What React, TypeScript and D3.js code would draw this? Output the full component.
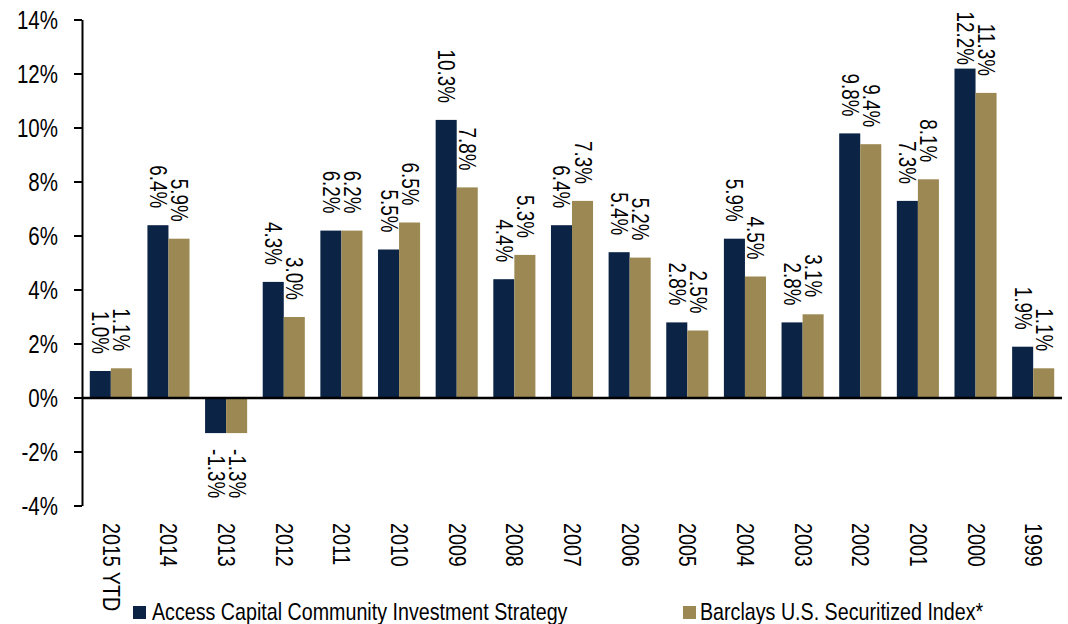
import React from 'react';
import * as d3 from 'd3';

// chart data
const categories = ['2015 YTD', '2014', '2013', '2012', '2011', '2010', '2009', '2008', '2007',
  '2006', '2005', '2004', '2003', '2002', '2001', '2000', '1999'];
const accessCapital = [1.0, 6.4, -1.3, 4.3, 6.2, 5.5, 10.3, 4.4, 6.4, 5.4, 2.8, 5.9, 2.8, 9.8, 7.3, 12.2, 1.9];
const barclays = [1.1, 5.9, -1.3, 3.0, 6.2, 6.5, 7.8, 5.3, 7.3, 5.2, 2.5, 4.5, 3.1, 9.4, 8.1, 11.3, 1.1];
const seriesNames = ['Access Capital Community Investment Strategy', 'Barclays U.S. Securitized Index*'];
const yTicks = [-4, -2, 0, 2, 4, 6, 8, 10, 12, 14];

const W = 1068, H = 624;
const colors = ['#0b2345', '#9b8853'];
const font = '"Liberation Sans", Arial, sans-serif';
const narrow = 'scale(0.82,1)'; // no Arial Narrow here, squeeze the glyphs instead

export default function App() {
  const x0 = d3.scaleBand<string>().domain(categories).range([82, 1062]).paddingInner(0.27).paddingOuter(0.135);
  const x1 = d3.scaleBand<string>().domain(['a', 'b']).range([0, x0.bandwidth()]);
  const y = d3.scaleLinear().domain([-4, 14]).range([506, 20]);

  const series = [accessCapital, barclays];
  const fmt = (v: number) => v.toFixed(1) + '%';

  return (
    <svg width={W} height={H} style={{ position: 'absolute', left: 0, top: 0 }} fontFamily={font}>
      {/* bars */}
      {series.map((vals, si) => (
        <g key={si} fill={colors[si]}>
          {vals.map((v, i) => {
            const bx = x0(categories[i])! + x1(si ? 'b' : 'a')!;
            return <rect key={i} x={bx} width={x1.bandwidth()} y={y(Math.max(v, 0))}
              height={Math.abs(y(v) - y(0))} />;
          })}
        </g>
      ))}

      {/* value labels, rotated */}
      {series.map((vals, si) => (
        <g key={'l' + si} fontSize={23} fill="#000">
          {vals.map((v, i) => {
            const cx = x0(categories[i])! + x1(si ? 'b' : 'a')! + x1.bandwidth() / 2 - 8;
            if (v >= 0) {
              let yy = y(v) - 17;
              // keep the label inside the plot
              const len = fmt(v).length * 10.4;
              if (yy - len < 13) yy = 13 + len;
              return <text key={i} transform={`translate(${cx},${yy}) rotate(90) ${narrow}`} textAnchor="end">{fmt(v)}</text>;
            }
            return <text key={i} transform={`translate(${cx},${y(v) + 16}) rotate(90) ${narrow}`} textAnchor="start">{fmt(v)}</text>;
          })}
        </g>
      ))}

      {/* y axis */}
      <line x1={82.5} x2={82.5} y1={y(14)} y2={y(-4)} stroke="#000" strokeWidth={2} />
      {yTicks.map(t => (
        <g key={t}>
          <line x1={74} x2={82} y1={y(t)} y2={y(t)} stroke="#000" strokeWidth={2} />
          <text transform={`translate(58,${y(t)}) ${narrow}`} dy="0.36em" textAnchor="end" fontSize={25}>{t}%</text>
        </g>
      ))}
      {/* zero line */}
      <line x1={82} x2={1062} y1={y(0)} y2={y(0)} stroke="#000" strokeWidth={2.5} />

      {/* category labels */}
      {categories.map(c => (
        <text key={c} transform={`translate(${x0(c)! + x0.bandwidth() / 2 - 8},523) rotate(90) ${narrow}`}
          fontSize={24} textAnchor="start">{c}</text>
      ))}

      {/* legend */}
      <rect x={133} y={606} width={13} height={13} fill={colors[0]} />
      <text transform={`translate(152,620) ${narrow}`} fontSize={24}>{seriesNames[0]}</text>
      <rect x={683} y={606} width={13} height={13} fill={colors[1]} />
      <text transform={`translate(700,620) ${narrow}`} fontSize={24}>{seriesNames[1]}</text>
    </svg>
  );
}
